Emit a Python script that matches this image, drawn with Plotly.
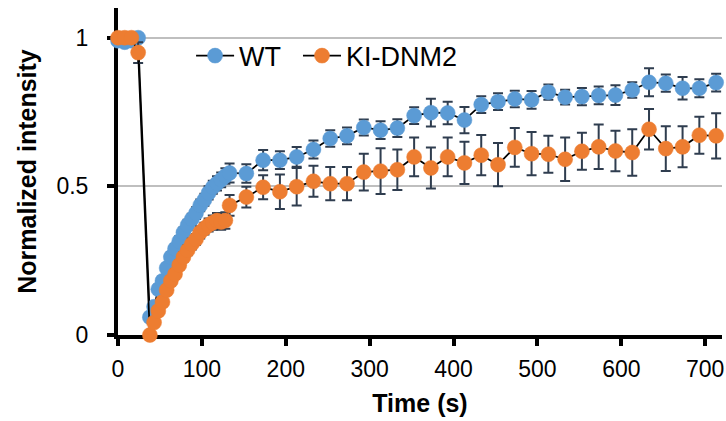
import plotly.graph_objects as go

# Time points (s)
time_s = [0, 8, 16, 24,
          38, 43, 48, 53, 58, 63, 68, 73, 78, 83, 88, 93, 98, 103, 108, 113, 118, 123, 128,
          133, 153, 173, 193, 213, 233, 253, 273, 293, 313, 333, 353, 373, 393, 413,
          433, 453, 473, 493, 513, 533, 553, 573, 593, 613, 633, 653, 673, 693, 713]

wt_mean = [0.99, 0.985, 0.99, 1.0,
           0.06, 0.095, 0.154, 0.182, 0.225, 0.262, 0.29, 0.315, 0.345, 0.37, 0.39, 0.41,
           0.436, 0.455, 0.478, 0.497, 0.51, 0.522, 0.535,
           0.545, 0.543, 0.588, 0.588, 0.599, 0.624, 0.661, 0.670, 0.698, 0.689, 0.696,
           0.738, 0.748, 0.747, 0.723, 0.775, 0.785, 0.794, 0.791, 0.817, 0.800, 0.802,
           0.806, 0.807, 0.824, 0.850, 0.847, 0.830, 0.830, 0.849]

wt_err = [0.01, 0.01, 0.01, 0.005,
          0.01, 0.012, 0.015, 0.015, 0.015, 0.016, 0.016, 0.017, 0.017, 0.018, 0.018, 0.02,
          0.02, 0.02, 0.022, 0.022, 0.024, 0.025, 0.026,
          0.032, 0.031, 0.034, 0.03, 0.033, 0.03, 0.028, 0.028, 0.027, 0.03, 0.03,
          0.028, 0.047, 0.038, 0.044, 0.028, 0.028, 0.028, 0.03, 0.026, 0.025, 0.029,
          0.03, 0.033, 0.026, 0.047, 0.029, 0.038, 0.03, 0.03]

ki_mean = [1.0, 1.0, 1.0, 0.95,
           0.0, 0.042, 0.081, 0.111, 0.151, 0.182, 0.205, 0.235, 0.262, 0.285, 0.306, 0.322,
           0.345, 0.358, 0.37, 0.378, 0.385, 0.38, 0.385,
           0.436, 0.464, 0.497, 0.482, 0.499, 0.517, 0.509, 0.509, 0.548, 0.551, 0.556,
           0.599, 0.562, 0.599, 0.579, 0.605, 0.573, 0.631, 0.610, 0.608, 0.591, 0.618,
           0.633, 0.619, 0.614, 0.692, 0.627, 0.633, 0.672, 0.670]

ki_err = [0.01, 0.01, 0.01, 0.035,
          0.005, 0.008, 0.01, 0.012, 0.012, 0.014, 0.015, 0.015, 0.016, 0.017, 0.018, 0.018,
          0.02, 0.02, 0.022, 0.024, 0.025, 0.026, 0.028,
          0.035, 0.035, 0.04, 0.058, 0.063, 0.052, 0.056, 0.056, 0.062, 0.077, 0.068,
          0.065, 0.069, 0.065, 0.071, 0.068, 0.073, 0.065, 0.073, 0.062, 0.073, 0.062,
          0.075, 0.068, 0.078, 0.068, 0.075, 0.069, 0.062, 0.076]

x_ticks = [0, 100, 200, 300, 400, 500, 600, 700]
y_ticks = [0, 0.5, 1]
y_tick_labels = ["0", "0.5", "1"]

series_names = ["WT", "KI-DNM2"]
colors = ["#5B9BD5", "#ED7D31"]
err_color = "#2F3D4F"

fig = go.Figure()
for name, ys, es, c, lg in [(series_names[0], wt_mean, wt_err, colors[0], "legend"),
                            (series_names[1], ki_mean, ki_err, colors[1], "legend2")]:
    fig.add_trace(go.Scatter(
        x=time_s, y=ys, name=name, mode="lines+markers",
        line=dict(color="black", width=1.75),
        marker=dict(color=c, size=15, line=dict(color=c, width=0.5)),
        error_y=dict(type="data", array=es, visible=True, color=err_color,
                     thickness=2, width=5),
        cliponaxis=False, legend=lg,
    ))

legend_style = dict(orientation="h", yanchor="middle", xanchor="left", y=0.853,
                    font=dict(size=27, color="black"), bgcolor="rgba(0,0,0,0)",
                    itemwidth=38)

fig.update_layout(
    width=726, height=421,
    margin=dict(l=118, r=4, t=8, b=86),
    paper_bgcolor="white", plot_bgcolor="white",
    font=dict(family="Liberation Sans, Arial, sans-serif", color="black"),
    showlegend=True,
    legend=dict(x=0.121, **legend_style),
    legend2=dict(x=0.298, **legend_style),
)
fig.update_xaxes(
    range=[0, 720], tickvals=x_ticks,
    showline=True, linecolor="black", linewidth=4,
    ticks="outside", ticklen=7, tickwidth=4, tickcolor="black",
    tickfont=dict(size=23, color="black"), ticklabelstandoff=3,
    showgrid=False, zeroline=False,
    title=dict(text="<b>Time (s)</b>", font=dict(size=25, color="black"), standoff=15),
    layer="below traces", automargin=False,
)
fig.update_yaxes(
    range=[0, 1.1], tickvals=y_ticks, ticktext=y_tick_labels,
    showline=True, linecolor="black", linewidth=4,
    ticks="outside", ticklen=7, tickwidth=4, tickcolor="black",
    tickfont=dict(size=23, color="black"), ticklabelstandoff=14,
    showgrid=True, gridcolor="#BFBFBF", gridwidth=1.5, zeroline=False,
    title=dict(text="<b>Normalized intensity</b>", font=dict(size=25, color="black"), standoff=14),
    layer="below traces", automargin=False,
)

# remove the default 8px page margin so the 726x421 figure fills the window exactly
fig.write_html("out.html", config={"displayModeBar": False},
               post_script="document.body.style.margin='0';")
